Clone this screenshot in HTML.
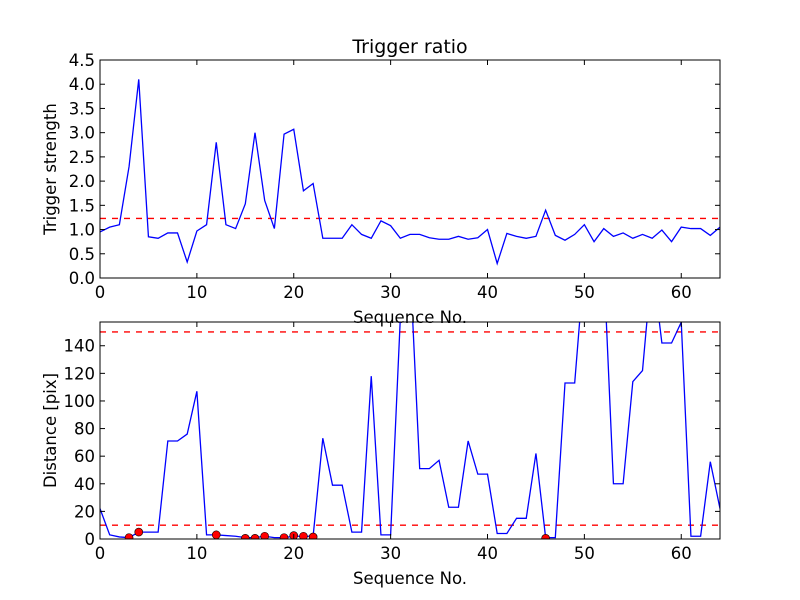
<!DOCTYPE html>
<html><head><meta charset="utf-8"><style>
html,body{margin:0;padding:0;background:#fff;}
svg{display:block;font-family:"DejaVu Sans","Liberation Sans",sans-serif;}
</style></head><body>
<svg id="chart" width="800" height="600" viewBox="0 0 800 600" xmlns="http://www.w3.org/2000/svg">
<rect width="800" height="600" fill="#fff"/>
<defs>
<clipPath id="c1"><rect x="100" y="60" width="620" height="218"/></clipPath>
<clipPath id="c2"><rect x="100" y="322" width="620" height="217"/></clipPath>
</defs>
</svg>
<script>
const strength=[0.95,1.05,1.1,2.3,4.1,0.85,0.82,0.93,0.93,0.33,0.97,1.1,2.8,1.1,1.02,1.53,3.0,1.6,1.02,2.97,3.07,1.8,1.95,0.82,0.82,0.82,1.1,0.9,0.82,1.18,1.08,0.82,0.9,0.9,0.83,0.8,0.8,0.86,0.8,0.83,1.0,0.3,0.92,0.86,0.82,0.86,1.4,0.88,0.78,0.9,1.1,0.75,1.02,0.86,0.93,0.82,0.9,0.82,0.99,0.75,1.05,1.02,1.02,0.88,1.05];
const strengthThreshold=1.23;
const distance=[22,3,1.5,1,5,5,5,71,71,76,107,3,3,2.5,2,1,1,2,1,1,2,2,2,73,39,39,5,5,118,3,3,160,200,51,51,57,23,23,71,47,47,4,4,15,15,62,1,1,113,113,200,200,200,40,40,114,122,200,142,142,157,2,2,56,22];
const distThresholds=[150,10];
const markerIdx=[3,4,12,15,16,17,19,20,21,22,46];
const markerVals=[1,5,3,0.5,0.5,2,1,2.5,2,1.5,0.5];
const xTicks=[0,10,20,30,40,50,60];
const y1Ticks=[0,0.5,1,1.5,2,2.5,3,3.5,4,4.5];
const y2Ticks=[0,20,40,60,80,100,120,140];

const svg=document.getElementById('chart');
const NS='http://www.w3.org/2000/svg';
function mk(tag,attrs,parent){const e=document.createElementNS(NS,tag);for(const k in attrs)e.setAttribute(k,attrs[k]);(parent||svg).appendChild(e);return e;}
const L=100,R=720;
const xs=v=>L+(v/64)*(R-L);
const y1=v=>278-(v/4.5)*218;
const y2=v=>539-(v/157.2)*217;

function axes(top,bot,yTicks,ys,yfmt,ylabel,name,title){
  const g=mk('g',{});
  
  
  xTicks.forEach(t=>{
    const x=xs(t);
    mk('line',{x1:x,x2:x,y1:bot,y2:bot-5,stroke:'#000'},g);
    mk('line',{x1:x,x2:x,y1:top,y2:top+5,stroke:'#000'},g);
    const tx=mk('text',{x:x,y:bot+20,'text-anchor':'middle','font-size':'16.5'},g);
    tx.textContent=t;
    
    
  });
  yTicks.forEach(t=>{
    const y=ys(t);
    mk('line',{x1:L,x2:L+5,y1:y,y2:y,stroke:'#000'},g);
    mk('line',{x1:R,x2:R-5,y1:y,y2:y,stroke:'#000'},g);
    const tx=mk('text',{x:L-5,y:y+6,'text-anchor':'end','font-size':'16.5'},g);
    tx.textContent=yfmt(t);
    
    
  });
  const xl=mk('text',{x:410,y:bot+45,'text-anchor':'middle','font-size':'16.5'},g);
  xl.textContent='Sequence No.';
  
  
  const cy=(top+bot)/2;
  const yl=mk('text',{x:56,y:cy,'text-anchor':'middle','font-size':'16.5',transform:`rotate(-90 56 ${cy})`},g);
  yl.textContent=ylabel;
  
  
  if(title){
    const tt=mk('text',{x:410,y:top-7,'text-anchor':'middle','font-size':'19'},g);
    tt.textContent=title;
    
    
  }
}
function line(vals,ys,clip,name){
  const p=mk('polyline',{points:vals.map((v,i)=>xs(i)+','+ys(v)).join(' '),fill:'none',stroke:'#0000ff','stroke-width':'1.3','clip-path':clip});
  
  
}
function hline(v,ys,name){
  const l=mk('line',{x1:L,x2:R,y1:ys(v),y2:ys(v),stroke:'#ff0000','stroke-width':'1.3','stroke-dasharray':'6,6'});
  
  
}
hline(strengthThreshold,y1,'strength-threshold');
line(strength,y1,'url(#c1)','strength-line');
mk('rect',{x:L,y:60,width:R-L,height:218,fill:'none',stroke:'#000'});
axes(60,278,y1Ticks,y1,t=>t.toFixed(1),'Trigger strength','top-axes','Trigger ratio');
distThresholds.forEach(v=>hline(v,y2,'distance-threshold'));
line(distance,y2,'url(#c2)','distance-line');
const mg=mk('g',{'clip-path':'url(#c2)'});
markerIdx.forEach((idx,i)=>{
  const c=mk('circle',{cx:xs(idx),cy:y2(markerVals[i]),r:4,fill:'#ff0000',stroke:'#000','stroke-width':'0.6'},mg);
  
  
});
mk('rect',{x:L,y:322,width:R-L,height:217,fill:'none',stroke:'#000'});
axes(322,539,y2Ticks,y2,t=>String(t),'Distance [pix]','bottom-axes',null);
</script>
</body></html>
